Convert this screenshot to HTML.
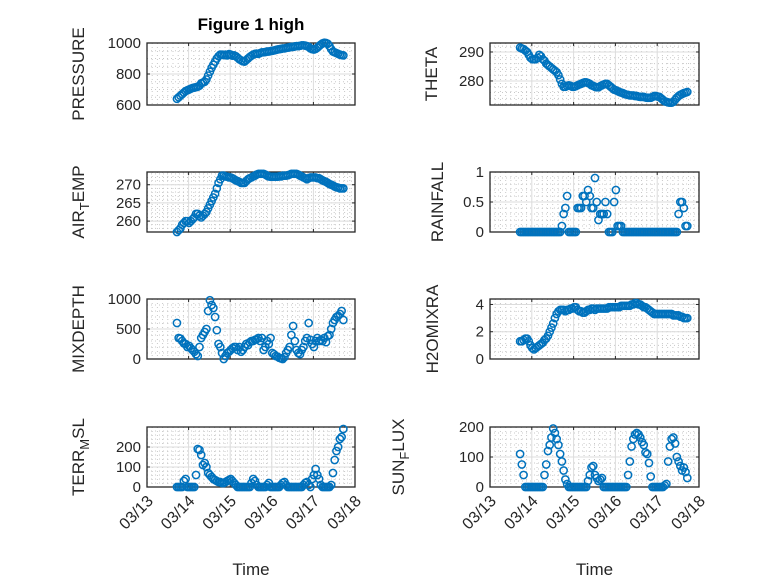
<!DOCTYPE html>
<html><head><meta charset="utf-8"><style>
html,body{margin:0;padding:0;background:#fff;}
svg{display:block;font-family:"Liberation Sans",sans-serif;}
</style></head><body>
<svg id="fig" width="778" height="583" viewBox="0 0 778 583" xmlns="http://www.w3.org/2000/svg">
<rect x="0" y="0" width="778" height="583" fill="#ffffff"/>
</svg>
<script>
const dayTicks = [13,14,15,16,17,18];
const dayTickLabels = ['03/13','03/14','03/15','03/16','03/17','03/18'];
const startDay = 13.72;
const hoursPerStep = 1;
const pressureValues = [640,650,660,670,680,690,695,700,705,710,712,715,718,725,740,745,750,765,790,815,840,860,880,900,915,925,925,922,925,920,928,925,918,920,915,905,895,888,882,880,890,900,910,918,925,930,932,930,935,940,940,942,945,945,948,950,952,955,958,960,962,965,965,968,970,972,975,975,978,980,980,982,985,985,983,980,975,965,960,958,962,970,980,990,998,1002,1000,995,980,960,945,940,935,930,925,922,920];
const thetaValues = [291.5,291.2,291,290.5,290,289,288,287.5,287.5,287.5,288,289,288.5,287.5,287,286,285.5,285,284.5,284,283.5,283,282,280.5,279,278,278,278.3,278.5,278.3,278,278,278.2,278.5,278.8,279,279.3,279.5,279.5,279.3,279,278.5,278.3,278,277.8,277.8,278.2,278.5,278.8,279,279,278.5,278,277.5,277,276.8,276.5,276.2,276,275.8,275.5,275.3,275.2,275,275,275,274.8,274.8,274.6,274.5,274.5,274.5,274.3,274.2,274.2,274.2,274.5,274.8,274.8,274.6,274.5,274,273.5,273,272.8,272.6,272.5,272.5,272.8,273.5,274.2,274.8,275.2,275.5,275.8,276,276.2];
const airTempValues = [257,257.5,258,259,259.5,260,260,259.5,260,260.5,261,262,262,261.5,261,261.5,262,262.5,263.5,264.5,265.5,266.5,267.5,269,270.5,271.5,272.5,272.5,272.3,272.2,272,272,271.8,271.5,271.2,271,270.8,270.5,270.5,270.5,271,271.5,271.8,272,272.3,272.5,272.8,273,273,273,273,272.8,272.5,272.3,272.2,272.2,272.2,272.2,272.2,272.3,272.3,272.5,272.5,272.5,272.6,272.8,273,273,273,273,272.8,272.5,272.3,272,271.8,271.5,271.8,272,272,272,272,271.8,271.8,271.5,271.2,271,270.8,270.5,270.2,270,269.8,269.5,269.3,269.2,269,269,269];
const rainfallValues = [0,0,0,0,0,0,0,0,0,0,0,0,0,0,0,0,0,0,0,0,0,0,0,0,0.1,0.3,0.4,0.6,0,0,0,0,0,0.4,0.4,0.4,0.6,0.6,0.5,0.7,0.6,0.4,0.4,0.9,0.5,0.2,0.3,0.3,0.3,0.5,0.3,0,0,0,0.5,0.7,0.1,0.1,0.1,0,0,0,0,0,0,0,0,0,0,0,0,0,0,0,0,0,0,0,0,0,0,0,0,0,0,0,0,0,0,0,0,0.3,0.5,0.5,0.4,0.1,0.1];
const mixDepthValues = [600,350,340,300,260,250,200,220,180,150,120,80,50,200,350,400,450,500,800,980,900,850,700,480,250,200,100,0,50,100,120,150,180,200,200,150,200,120,150,200,250,230,280,300,300,320,330,350,300,350,150,200,300,250,350,100,80,50,40,20,10,0,30,100,150,200,400,550,300,150,100,80,150,200,300,350,600,320,250,200,300,350,300,320,300,350,280,380,400,500,600,650,700,720,750,800,650];
const h2oMixValues = [1.3,1.3,1.4,1.5,1.5,1.3,1.0,0.8,0.7,0.8,0.9,1.0,1.1,1.2,1.4,1.5,1.7,2.0,2.3,2.6,3.0,3.3,3.5,3.6,3.6,3.6,3.5,3.6,3.6,3.7,3.7,3.8,3.8,3.6,3.5,3.5,3.4,3.4,3.5,3.6,3.6,3.7,3.7,3.6,3.7,3.7,3.7,3.7,3.7,3.7,3.7,3.8,3.8,3.8,3.8,3.8,3.8,3.8,3.9,3.9,3.9,3.9,3.9,3.9,4.0,4.0,4.1,4.1,4.0,4.0,3.9,3.8,3.8,3.7,3.6,3.5,3.4,3.3,3.3,3.3,3.3,3.3,3.3,3.3,3.3,3.3,3.3,3.3,3.2,3.2,3.2,3.2,3.1,3.1,3.0,3.0,3.0];
const terrValues = [0,0,0,0,30,40,0,0,0,0,0,60,190,185,160,110,120,100,70,60,50,40,35,30,25,25,20,20,25,30,35,40,30,20,10,0,0,0,0,0,0,0,0,20,40,30,10,0,0,0,0,0,10,20,0,0,0,0,0,0,10,20,25,10,0,0,0,0,0,0,0,0,0,10,20,25,10,0,40,60,90,60,40,10,0,0,0,0,0,10,70,135,180,200,240,250,290];
const sunFluxValues = [110,75,40,0,0,0,0,0,0,0,0,0,0,0,40,75,120,140,165,195,180,160,140,110,85,55,25,10,0,0,0,0,0,0,0,0,0,0,0,20,40,65,70,40,30,20,25,30,0,0,0,0,0,0,0,0,0,0,0,0,0,0,40,85,135,160,175,180,175,165,150,140,115,110,80,35,0,0,0,0,0,0,0,5,10,85,135,160,165,145,100,85,70,55,65,50,30];

const pressureTicks=[600,800,1000], thetaTicks=[280,290], airTicks=[260,265,270], rainTicks=[0,0.5,1], rainTickLabels=['0','0.5','1'], mixTicks=[0,500,1000], h2oTicks=[0,2,4], terrTicks=[0,100,200], sunTicks=[0,100,200];

const NS='http://www.w3.org/2000/svg';
const svg=document.getElementById('fig');
function mk(tag,attrs,parent){const e=document.createElementNS(NS,tag);for(const k in attrs)e.setAttribute(k,attrs[k]);(parent||svg).appendChild(e);return e;}

function panel(cfg){
  const g=mk('g',{});
  
  
  const L=cfg.x0,R=cfg.x1,T=cfg.y0,B=cfg.y1;
  const xs=d=>L+(d-13)/5*(R-L);
  const ys=v=>B-(v-cfg.ymin)/(cfg.ymax-cfg.ymin)*(B-T);
  for(let d=13;d<18;d+=1/8){const x=xs(d);if(Math.abs(d-Math.round(d))<1e-6)continue;
    const l=mk('line',{x1:x,x2:x,y1:T,y2:B,stroke:'#c8c8c8','stroke-width':1,'stroke-dasharray':'1,3'},g);
    
    }
  for(let v=cfg.ymin0;v<=cfg.ymax+1e-9;v+=cfg.minor){if(v<cfg.ymin-1e-9)continue;const y=ys(v);
    const l=mk('line',{x1:L,x2:R,y1:y,y2:y,stroke:'#c8c8c8','stroke-width':1,'stroke-dasharray':'1,3'},g);
    
    }
  dayTicks.forEach(d=>{const x=xs(d);
    const l=mk('line',{x1:x,x2:x,y1:T,y2:B,stroke:'#dcdcdc','stroke-width':1},g);
    
    
    mk('line',{x1:x,x2:x,y1:B,y2:B-3,stroke:'#262626','stroke-width':1},g);
    mk('line',{x1:x,x2:x,y1:T,y2:T+3,stroke:'#262626','stroke-width':1},g);});
  cfg.ticks.forEach((v,i)=>{const y=ys(v);
    const l=mk('line',{x1:L,x2:R,y1:y,y2:y,stroke:'#dcdcdc','stroke-width':1},g);
    
    
    mk('line',{x1:L,x2:L+3,y1:y,y2:y,stroke:'#262626','stroke-width':1},g);
    mk('line',{x1:R,x2:R-3,y1:y,y2:y,stroke:'#262626','stroke-width':1},g);
    const t=mk('text',{x:L-6,y:y+5,'text-anchor':'end','font-size':15,fill:'#262626'},g);
    t.textContent=cfg.tickLabels?cfg.tickLabels[i]:String(v);
    
    });
  const box=mk('rect',{x:L,y:T,width:R-L,height:B-T,fill:'none',stroke:'#262626','stroke-width':1.3},g);
  
  
  const mg=mk('g',{},g);
  
  
  cfg.values.forEach((v,i)=>{const d=startDay+i*hoursPerStep/24;
    const c=mk('circle',{cx:xs(d),cy:ys(v),r:3.6,fill:'none',stroke:'#0072BD','stroke-width':1.5},mg);
    
    });
  const yl=mk('text',{transform:`translate(${cfg.lx},${(T+B)/2}) rotate(-90)`,'text-anchor':'middle','font-size':17,fill:'#262626'},g);
  
  
  if(cfg.sub){const a=mk('tspan',{},yl);a.textContent=cfg.sub[0];
    const b=mk('tspan',{dy:5,'font-size':13},yl);b.textContent=cfg.sub[1];
    const c=mk('tspan',{dy:-5},yl);c.textContent=cfg.sub[2];}
  else yl.textContent=cfg.label;
  if(cfg.xlabels){
    dayTicks.forEach((d,i)=>{const x=xs(d);
      const t=mk('text',{transform:`translate(${x+7},${B+15}) rotate(-45)`,'text-anchor':'end','font-size':16,fill:'#262626'},g);
      t.textContent=dayTickLabels[i];
      
      });
    const xt=mk('text',{x:(L+R)/2,y:575,'text-anchor':'middle','font-size':17,fill:'#262626'},g);
    xt.textContent='Time';
    
    
  }
}
const LC=[147,355], RC=[490,699];
panel({name:'pressure',x0:LC[0],x1:LC[1],y0:43,y1:105,ymin:600,ymax:1000,ymin0:600,minor:50,ticks:pressureTicks,values:pressureValues,label:'PRESSURE',lx:84});
panel({name:'theta',x0:RC[0],x1:RC[1],y0:43,y1:105,ymin:271.7,ymax:293.1,ymin0:272,minor:2,ticks:thetaTicks,values:thetaValues,label:'THETA',lx:437});
panel({name:'air-temp',x0:LC[0],x1:LC[1],y0:172,y1:232,ymin:257,ymax:273.5,ymin0:257,minor:1,ticks:airTicks,values:airTempValues,sub:['AIR','T','EMP'],lx:84});
panel({name:'rainfall',x0:RC[0],x1:RC[1],y0:172,y1:232,ymin:0,ymax:1,ymin0:0,minor:0.1,ticks:rainTicks,tickLabels:rainTickLabels,values:rainfallValues,label:'RAINFALL',lx:443});
panel({name:'mixdepth',x0:LC[0],x1:LC[1],y0:299,y1:359,ymin:0,ymax:1000,ymin0:0,minor:100,ticks:mixTicks,values:mixDepthValues,label:'MIXDEPTH',lx:84});
panel({name:'h2omixra',x0:RC[0],x1:RC[1],y0:299,y1:359,ymin:0,ymax:4.4,ymin0:0,minor:0.5,ticks:h2oTicks,values:h2oMixValues,label:'H2OMIXRA',lx:438});
panel({name:'terr-msl',x0:LC[0],x1:LC[1],y0:427,y1:487,ymin:0,ymax:300,ymin0:0,minor:20,ticks:terrTicks,values:terrValues,sub:['TERR','M','SL'],lx:84,xlabels:true});
panel({name:'sun-flux',x0:RC[0],x1:RC[1],y0:427,y1:487,ymin:0,ymax:200,ymin0:0,minor:20,ticks:sunTicks,values:sunFluxValues,sub:['SUN','F','LUX'],lx:404,xlabels:true});
const title=mk('text',{x:251,y:30,'text-anchor':'middle','font-size':17,'font-weight':'bold',fill:'#000'});
title.textContent='Figure 1 high';


</script>
</body></html>
